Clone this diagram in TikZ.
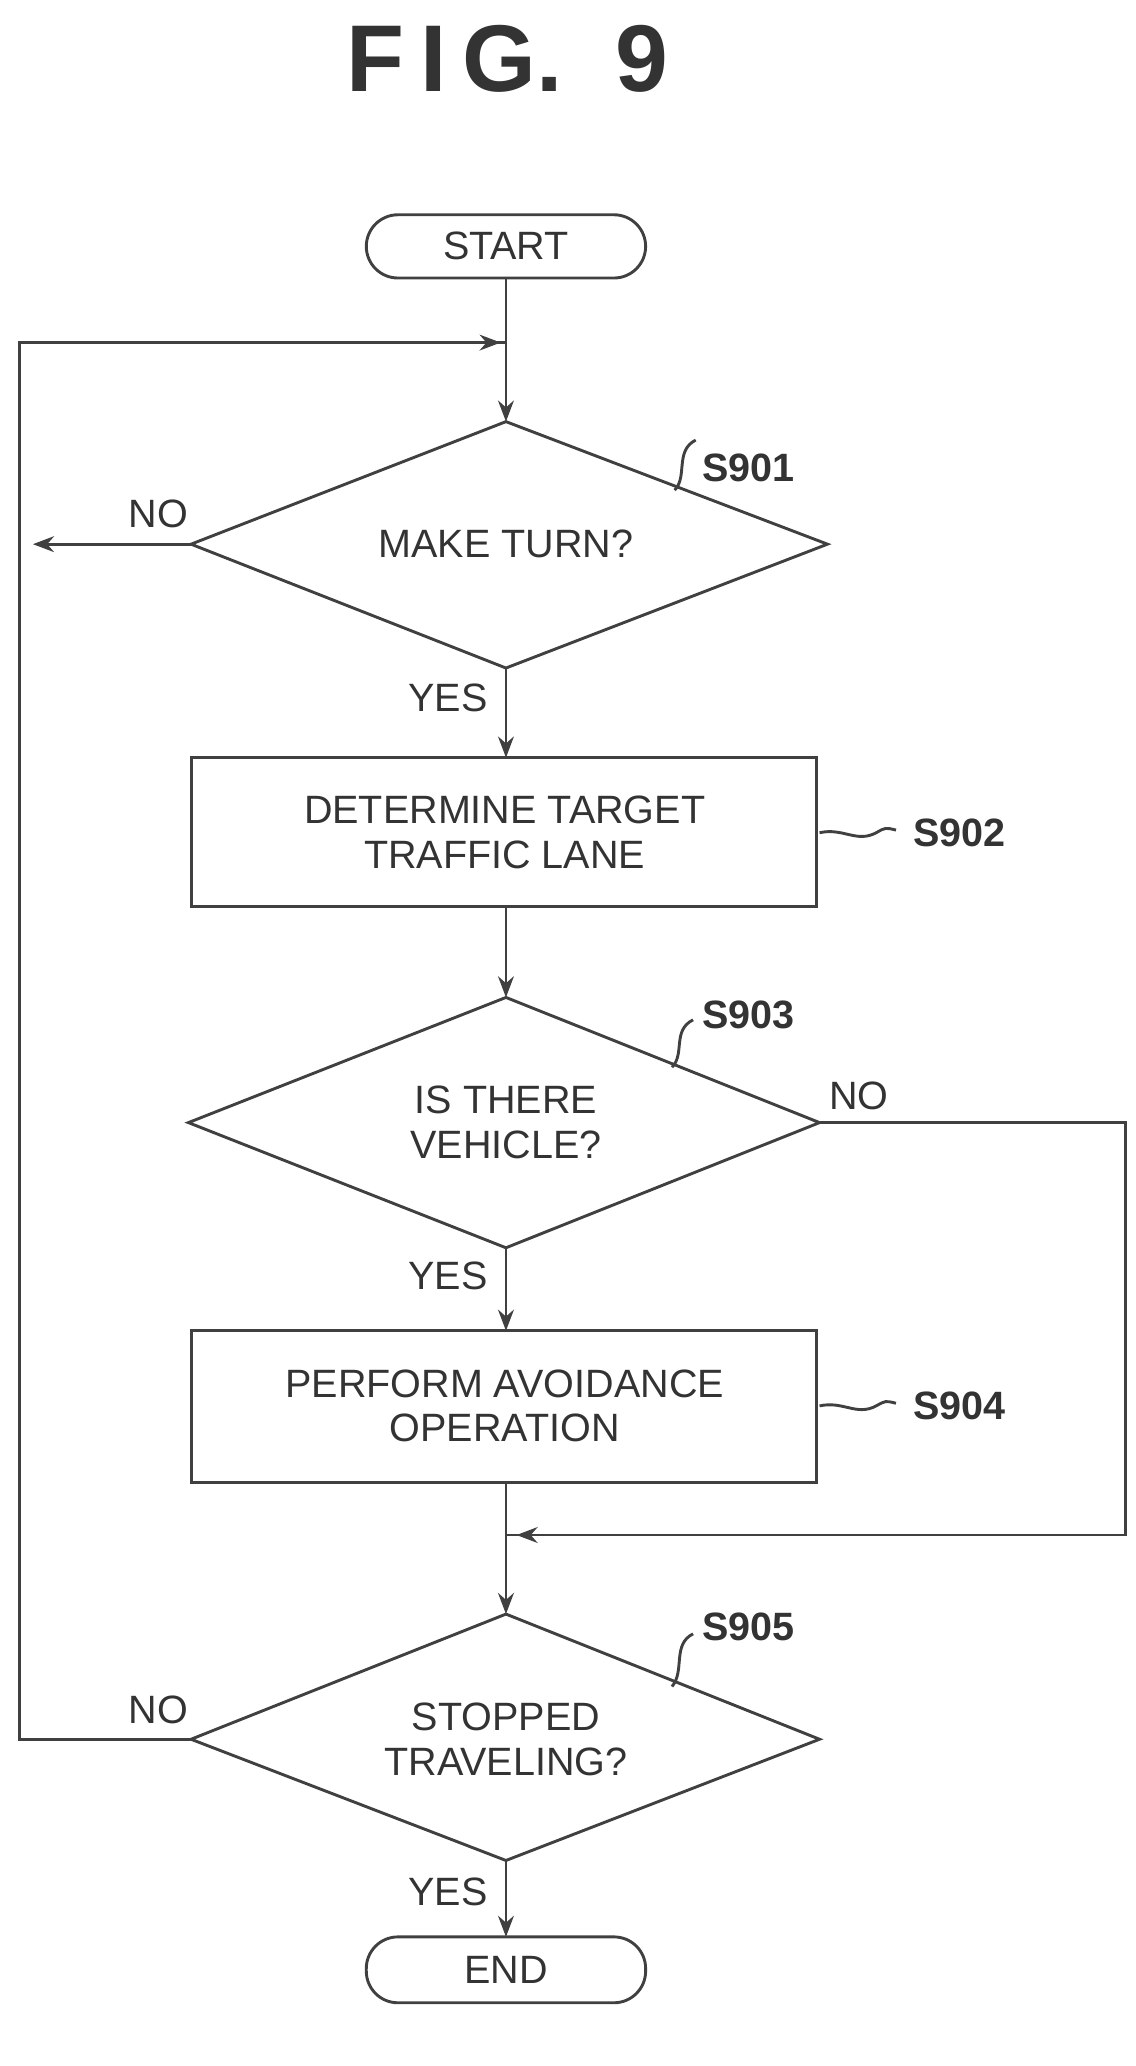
\documentclass[tikz,border=0pt]{standalone}
\usepackage{fontspec}
\setmainfont{Liberation Sans}
\usetikzlibrary{arrows.meta}
\begin{document}
\begin{tikzpicture}[x=0.5pt,y=-0.5pt,
  ln/.style={draw=black!75,line width=1.1pt},
  arr/.style={ln,-{Stealth[length=8pt,width=6pt]}},
  txt/.style={font=\fontsize{15}{17}\selectfont,align=center,text=black!80},
  lbl/.style={font=\bfseries\fontsize{15}{17}\selectfont,text=black!80},
  term/.style={ln,rounded corners=12pt}]
\useasboundingbox (0,0) rectangle (862,1568);
\node[font=\bfseries\fontsize{36}{40}\selectfont,text=black!80] (title) at (385,45) {F\,I\,G.\; 9};
% start
\draw[term] (278,163) rectangle (490,211);
\node[txt] (start) at (384,187) {START};
\coordinate (sb) at (384,211);
\coordinate (j1) at (384,260);
% S901
\coordinate (d1t) at (384,320); \coordinate (d1b) at (384,507);
\coordinate (d1l) at (145,413); \coordinate (d1r) at (628,413);
\draw[ln] (d1t)--(d1r)--(d1b)--(d1l)--cycle;
\node[txt] (d1) at (384,413) {MAKE TURN?};
% S902
\draw[ln] (145,575) rectangle (620,688);
\node[txt] (b2) at (383,632) {DETERMINE TARGET\\TRAFFIC LANE};
\coordinate (b2t) at (384,575); \coordinate (b2b) at (384,688);
% S903
\coordinate (d3t) at (384,757); \coordinate (d3b) at (384,947);
\coordinate (d3l) at (143,852); \coordinate (d3r) at (622,852);
\draw[ln] (d3t)--(d3r)--(d3b)--(d3l)--cycle;
\node[txt] (d3) at (384,852) {IS THERE\\VEHICLE?};
% S904
\draw[ln] (145,1010) rectangle (620,1125);
\node[txt] (b4) at (383,1067) {PERFORM AVOIDANCE\\OPERATION};
\coordinate (b4t) at (384,1010); \coordinate (b4b) at (384,1125);
\coordinate (j2) at (384,1165);
% S905
\coordinate (d5t) at (384,1225); \coordinate (d5b) at (384,1412);
\coordinate (d5l) at (145,1320); \coordinate (d5r) at (622,1320);
\draw[ln] (d5t)--(d5r)--(d5b)--(d5l)--cycle;
\node[txt] (d5) at (384,1320) {STOPPED\\TRAVELING?};
% end
\draw[term] (278,1470) rectangle (490,1520);
\node[txt] (end) at (384,1495) {END};
\coordinate (et) at (384,1470);
% connectors
\draw[ln] (sb)--(j1);
\draw[arr] (j1)--(d1t);
\draw[arr] (d1b)--(b2t);
\draw[arr] (b2b)--(d3t);
\draw[arr] (d3b)--(b4t);
\draw[ln] (b4b)--(j2);
\draw[arr] (j2)--(d5t);
\draw[arr] (d5b)--(et);
\draw[arr] (d1l)--(25,413);
\draw[ln] (d5l)--(15,1320)--(15,260)--(j1);
\draw[arr] (15,260)--(380,260);
\draw[ln] (d3r)--(854,852)--(854,1165)--(j2);
\draw[arr] (854,1165)--(392,1165);
% yes/no labels
\node[txt] at (120,390) {NO};
\node[txt] at (340,530) {YES};
\node[txt] at (652,832) {NO};
\node[txt] at (340,968) {YES};
\node[txt] at (120,1298) {NO};
\node[txt] at (340,1436) {YES};
% step labels
\node[lbl] (s1) at (568,355) {S901};
\draw[ln] (512,372) .. controls (522,362) and (512,342) .. (528,334);
\node[lbl] (s2) at (728,632) {S902};
\draw[ln] (622,632) .. controls (640,628) and (650,640) .. (665,632) .. controls (672,628) .. (680,630);
\node[lbl] (s3) at (568,770) {S903};
\draw[ln] (510,810) .. controls (520,800) and (510,782) .. (526,774);
\node[lbl] (s4) at (728,1067) {S904};
\draw[ln] (622,1067) .. controls (640,1063) and (650,1075) .. (665,1067) .. controls (672,1063) .. (680,1065);
\node[lbl] (s5) at (568,1235) {S905};
\draw[ln] (510,1280) .. controls (520,1268) and (510,1248) .. (526,1240);
\end{tikzpicture}
\end{document}
